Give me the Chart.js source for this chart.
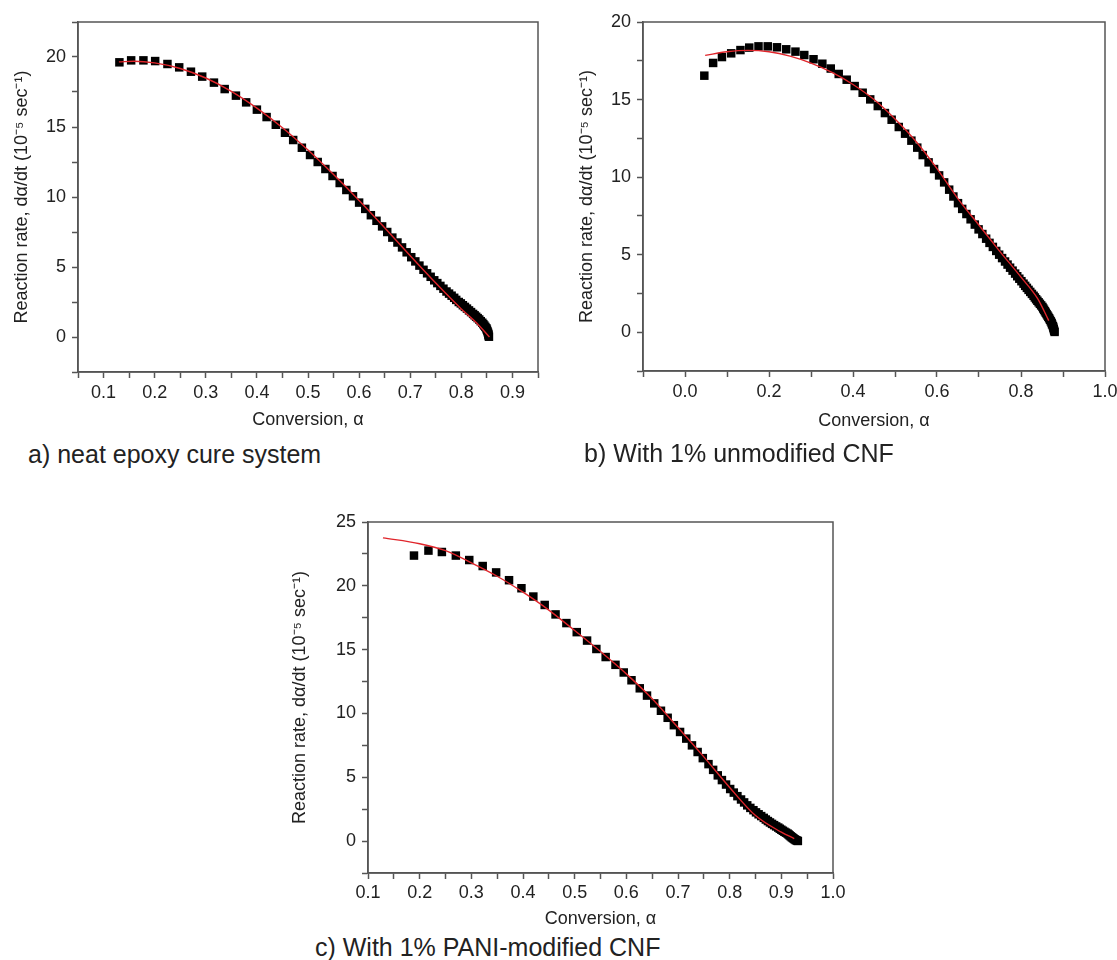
<!DOCTYPE html>
<html>
<head>
<meta charset="utf-8">
<script src="https://cdn.jsdelivr.net/npm/chart.js@4.4.0/dist/chart.umd.min.js"></script>
<style>
  body { margin: 0; background: #fff; }
  #page { position: relative; width: 1117px; height: 960px; overflow: hidden;
          font-family: "Liberation Sans", Arial, sans-serif; color: #222; }
  canvas { position: absolute; }
  .caption { position: absolute; font-size: 25px; line-height: 25px; white-space: nowrap; }
</style>
</head>
<body>
<div id="page">
  <canvas id="chartA" width="560" height="440" style="left:0;top:0"></canvas>
  <canvas id="chartB" width="557" height="440" style="left:560px;top:0"></canvas>
  <canvas id="chartC" width="580" height="450" style="left:280px;top:480px"></canvas>
  <div class="caption" style="left:28px;top:442px">a) neat epoxy cure system</div>
  <div class="caption" style="left:584px;top:441px">b) With 1% unmodified CNF</div>
  <div class="caption" style="left:315px;top:935px">c) With 1% PANI-modified CNF</div>
</div>
<script>
// measured points [conversion, rate]
const A_POINTS = [
  [0.131,19.62],[0.154,19.76],[0.178,19.76],[0.201,19.71],[0.225,19.50],[0.248,19.26],[0.271,18.95],
  [0.293,18.60],[0.316,18.17],[0.337,17.71],[0.359,17.24],[0.379,16.76],[0.400,16.24],[0.419,15.71],
  [0.437,15.16],[0.455,14.59],[0.471,14.07],[0.488,13.52],[0.504,13.00],[0.519,12.5],[0.534,12.0],
  [0.548,11.5],[0.562,11.0],[0.575,10.5],[0.588,10.05],[0.600,9.6],[0.612,9.15],[0.623,8.7],[0.634,8.3],
  [0.645,7.9],[0.655,7.5],[0.665,7.1],[0.675,6.75],[0.684,6.4],[0.693,6.05],[0.702,5.7],[0.710,5.4],
  [0.718,5.1],[0.726,4.8],[0.733,4.55],[0.740,4.3],[0.747,4.05],[0.753,3.85],[0.759,3.65],[0.765,3.45],
  [0.771,3.25],[0.776,3.1],[0.781,2.95],[0.786,2.8],[0.790,2.65],[0.795,2.5],[0.799,2.4],[0.803,2.27],
  [0.807,2.15],[0.811,2.03],[0.815,1.9],[0.819,1.78],[0.823,1.65],[0.826,1.55],[0.829,1.45],[0.832,1.35],
  [0.835,1.25],[0.838,1.13],[0.841,1.02],[0.843,0.92],[0.845,0.82],[0.847,0.72],[0.849,0.62],[0.850,0.52],
  [0.851,0.42],[0.852,0.32],[0.853,0.22],[0.853,0.12],[0.854,0.02]
];
const A_FIT = [
  [0.13,19.65],[0.16,19.7],[0.2,19.58],[0.25,19.18],[0.3,18.5],[0.35,17.55],[0.4,16.35],[0.45,14.95],
  [0.5,13.35],[0.55,11.6],[0.6,9.75],[0.65,7.8],[0.7,5.8],[0.75,3.85],[0.8,2.0],[0.83,1.0],[0.855,0.0]
];

const B_POINTS = [
  [0.046,16.54],[0.067,17.36],[0.088,17.74],[0.110,17.98],[0.132,18.19],[0.153,18.35],[0.175,18.43],
  [0.197,18.43],[0.219,18.37],[0.241,18.24],[0.263,18.09],[0.284,17.87],[0.306,17.6],[0.327,17.31],
  [0.347,17.0],[0.366,16.65],[0.385,16.28],[0.404,15.87],[0.423,15.44],[0.441,15.01],[0.459,14.58],
  [0.476,14.13],[0.492,13.70],[0.509,13.23],[0.524,12.8],[0.539,12.35],[0.553,11.9],[0.566,11.42],
  [0.580,10.95],[0.593,10.52],[0.605,10.11],[0.617,9.66],[0.629,9.19],[0.639,8.75],[0.650,8.32],
  [0.660,7.95],[0.670,7.62],[0.680,7.28],[0.690,6.94],[0.699,6.63],[0.708,6.33],[0.717,6.03],[0.725,5.76],
  [0.733,5.5],[0.741,5.24],[0.748,5.0],[0.755,4.78],[0.762,4.56],[0.768,4.36],[0.774,4.16],[0.780,3.97],
  [0.786,3.78],[0.791,3.61],[0.796,3.45],[0.801,3.29],[0.806,3.13],[0.810,2.99],[0.814,2.86],[0.818,2.73],
  [0.822,2.6],[0.826,2.47],[0.830,2.35],[0.833,2.24],[0.836,2.13],[0.839,2.03],[0.842,1.93],[0.845,1.83],
  [0.848,1.73],[0.851,1.63],[0.853,1.53],[0.855,1.44],[0.857,1.35],[0.859,1.26],[0.861,1.17],[0.863,1.08],
  [0.865,0.99],[0.867,0.9],[0.869,0.8],[0.871,0.7],[0.873,0.6],[0.874,0.5],[0.876,0.4],[0.877,0.3],
  [0.878,0.2],[0.879,0.1],[0.880,0.02]
];
const B_FIT = [
  [0.048,17.85],[0.1,18.08],[0.15,18.17],[0.2,18.08],[0.25,17.8],[0.3,17.35],[0.35,16.75],[0.4,15.97],
  [0.45,15.0],[0.5,13.75],[0.55,12.3],[0.6,10.55],[0.65,8.6],[0.7,6.9],[0.75,5.2],[0.8,3.55],[0.84,2.15],
  [0.866,0.75]
];

const C_POINTS = [
  [0.189,22.37],[0.217,22.76],[0.243,22.65],[0.270,22.37],[0.296,22.02],[0.322,21.55],[0.348,21.05],
  [0.373,20.44],[0.397,19.81],[0.420,19.16],[0.442,18.5],[0.463,17.76],[0.484,17.08],[0.504,16.37],
  [0.524,15.71],[0.542,15.05],[0.560,14.42],[0.579,13.81],[0.595,13.21],[0.610,12.6],[0.626,11.97],
  [0.640,11.4],[0.654,10.79],[0.667,10.21],[0.680,9.66],[0.692,9.08],[0.704,8.55],[0.716,8.03],[0.727,7.5],
  [0.738,6.98],[0.748,6.5],[0.759,6.03],[0.768,5.58],[0.777,5.15],[0.785,4.78],[0.793,4.43],[0.801,4.08],
  [0.808,3.8],[0.815,3.52],[0.822,3.26],[0.828,3.03],[0.834,2.8],[0.840,2.6],[0.846,2.42],[0.851,2.25],
  [0.856,2.1],[0.861,1.96],[0.866,1.82],[0.870,1.69],[0.874,1.57],[0.878,1.46],[0.882,1.35],[0.886,1.25],
  [0.890,1.15],[0.894,1.06],[0.897,0.97],[0.900,0.89],[0.903,0.81],[0.906,0.73],[0.909,0.66],[0.912,0.59],
  [0.914,0.52],[0.916,0.45],[0.918,0.38],[0.920,0.31],[0.922,0.25],[0.924,0.19],[0.926,0.13],[0.928,0.08],
  [0.930,0.04],[0.932,0.01]
];
const C_FIT = [
  [0.129,23.76],[0.2,23.3],[0.25,22.75],[0.3,21.8],[0.35,20.75],[0.4,19.5],[0.45,18.1],[0.5,16.5],
  [0.55,14.85],[0.6,13.1],[0.65,11.15],[0.7,8.9],[0.75,6.6],[0.8,4.2],[0.85,2.0],[0.9,0.7],[0.925,0.2]
];

// axis ticks
const A_X_TICKS = [0.05,0.1,0.15,0.2,0.25,0.3,0.35,0.4,0.45,0.5,0.55,0.6,0.65,0.7,0.75,0.8,0.85,0.9,0.95];
const A_X_LABELS = [0.1,0.2,0.3,0.4,0.5,0.6,0.7,0.8,0.9];
const A_Y_TICKS = [-2.5,0,2.5,5,7.5,10,12.5,15,17.5,20,22.5];
const B_X_TICKS = [-0.1,0,0.1,0.2,0.3,0.4,0.5,0.6,0.7,0.8,0.9,1.0];
const B_X_LABELS = [0,0.2,0.4,0.6,0.8,1.0];
const B_Y_TICKS = [-2.5,0,2.5,5,7.5,10,12.5,15,17.5,20];
const C_X_TICKS = [0.1,0.15,0.2,0.25,0.3,0.35,0.4,0.45,0.5,0.55,0.6,0.65,0.7,0.75,0.8,0.85,0.9,0.95,1.0];
const C_X_LABELS = [0.1,0.2,0.3,0.4,0.5,0.6,0.7,0.8,0.9,1.0];
const C_Y_TICKS = [-2.5,0,2.5,5,7.5,10,12.5,15,17.5,20,22.5,25];
const Y_LABELS = [0,5,10,15,20,25];

const X_TITLE = 'Conversion, α';
const Y_TITLE = 'Reaction rate, dα/dt (10⁻⁵ sec⁻¹)';

const FONT = '"Liberation Sans", Arial, sans-serif';
const INK = '#222';
const FRAME = '#555';

const framePlugin = {
  id: 'frame',
  afterDraw(chart) {
    const { ctx, chartArea: a } = chart;
    ctx.save();
    ctx.strokeStyle = FRAME;
    ctx.lineWidth = 1.5;
    ctx.strokeRect(a.left, a.top, a.right - a.left, a.bottom - a.top);
    ctx.restore();
  }
};

const has = (list, v) => list.some(m => Math.abs(m - v) < 1e-9);

function makePanel(id, p) {
  const canvas = document.getElementById(id);
  const W = canvas.width, H = canvas.height;
  new Chart(canvas.getContext('2d'), {
    type: 'scatter',
    data: {
      datasets: [{
        data: p.fit.map(d => ({ x: d[0], y: d[1] })),
        showLine: true,
        borderColor: '#e0252b',
        borderWidth: 1.4,
        pointRadius: 0,
        cubicInterpolationMode: 'monotone'
      }, {
        data: p.points.map(d => ({ x: d[0], y: d[1] })),
        pointStyle: 'rect',
        pointRadius: 6,
        pointBorderWidth: 0,
        backgroundColor: '#000',
        borderColor: '#000'
      }]
    },
    options: {
      responsive: false,
      animation: false,
      events: [],
      layout: { padding: { top: p.box.top, right: W - p.box.right, left: 0, bottom: 0 } },
      plugins: { legend: { display: false }, tooltip: { enabled: false } },
      scales: {
        x: {
          type: 'linear',
          min: p.xMin, max: p.xMax,
          afterBuildTicks: s => { s.ticks = p.xTicks.map(v => ({ value: v })); },
          afterFit: s => { s.height = H - p.box.bottom; s.paddingLeft = 0; s.paddingRight = 0; },
          grid: { drawOnChartArea: false, tickLength: 6, tickWidth: 1.5, tickColor: FRAME },
          border: { color: FRAME, width: 1.5 },
          ticks: {
            autoSkip: false, maxRotation: 0, padding: p.xTickPad, color: INK,
            font: { family: FONT, size: 18 },
            callback: v => has(p.xLabels, v) ? v.toFixed(1) : ''
          },
          title: { display: true, text: X_TITLE, color: INK, font: { family: FONT, size: 18 },
                   padding: { top: 0, bottom: p.xTitlePad } }
        },
        y: {
          type: 'linear',
          min: p.yMin, max: p.yMax,
          afterBuildTicks: s => { s.ticks = p.yTicks.map(v => ({ value: v })); },
          afterFit: s => { s.width = p.box.left; s.paddingTop = 0; s.paddingBottom = 0; },
          grid: { drawOnChartArea: false, tickLength: 6, tickWidth: 1.5, tickColor: FRAME },
          border: { color: FRAME, width: 1.5 },
          ticks: {
            autoSkip: false, padding: p.yTickPad, color: INK,
            font: { family: FONT, size: 18 },
            callback: v => has(Y_LABELS, v) ? String(v) : ''
          },
          title: { display: true, text: Y_TITLE, color: INK, font: { family: FONT, size: 18 },
                   padding: { top: p.yTitlePad, bottom: 0 } }
        }
      }
    },
    plugins: [framePlugin]
  });
}

makePanel('chartA', {
  points: A_POINTS, fit: A_FIT,
  xMin: 0.05, xMax: 0.95, yMin: -2.5, yMax: 22.5,
  xTicks: A_X_TICKS, xLabels: A_X_LABELS, yTicks: A_Y_TICKS,
  box: { left: 78, top: 22, right: 538, bottom: 372 },
  xTickPad: 4, yTickPad: 6, xTitlePad: 9, yTitlePad: 11
});
makePanel('chartB', {
  points: B_POINTS, fit: B_FIT,
  xMin: -0.1, xMax: 1.0, yMin: -2.5, yMax: 20,
  xTicks: B_X_TICKS, xLabels: B_X_LABELS, yTicks: B_Y_TICKS,
  box: { left: 83, top: 22, right: 545, bottom: 371 },
  xTickPad: 4, yTickPad: 6, xTitlePad: 8, yTitlePad: 16
});
makePanel('chartC', {
  points: C_POINTS, fit: C_FIT,
  xMin: 0.1, xMax: 1.0, yMin: -2.5, yMax: 25,
  xTicks: C_X_TICKS, xLabels: C_X_LABELS, yTicks: C_Y_TICKS,
  box: { left: 88, top: 42, right: 553, bottom: 393 },
  xTickPad: 3, yTickPad: 6, xTitlePad: 0, yTitlePad: 9
});
</script>
</body>
</html>
